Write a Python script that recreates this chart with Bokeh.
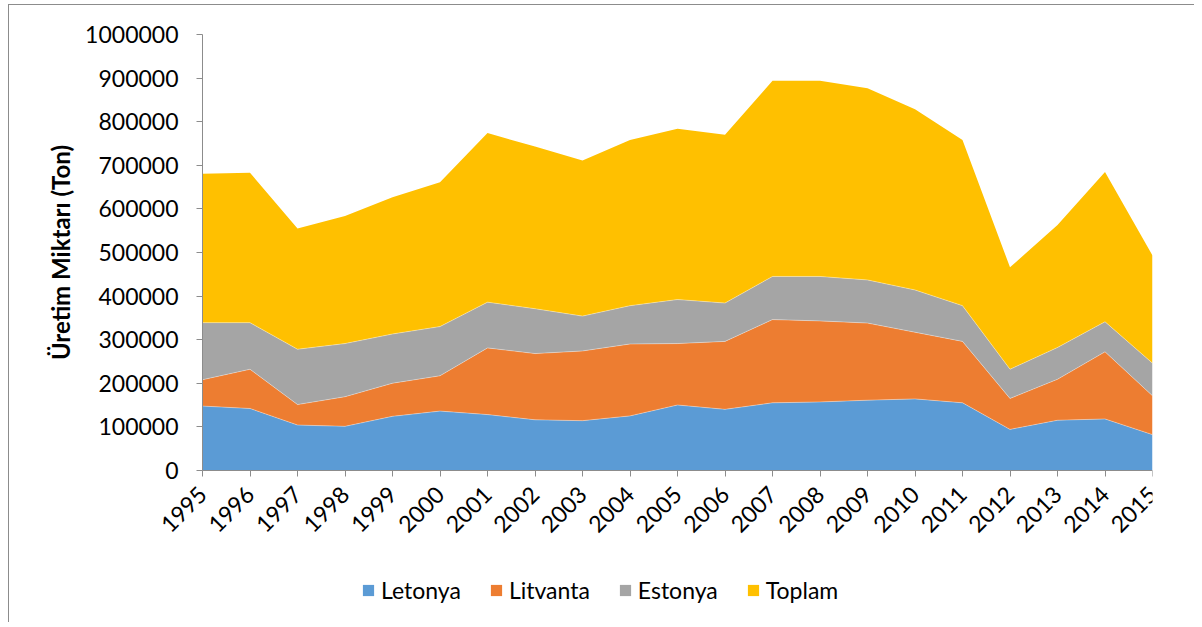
from math import pi
from bokeh.plotting import figure
from bokeh.models import ColumnDataSource, FixedTicker, BasicTickFormatter, Legend, LegendItem, Range1d
from bokeh.embed import file_html
from bokeh.resources import INLINE

years = list(range(1995, 2016))
letonya = [147500, 142000, 104000, 101000, 124000, 136000, 128000, 116000, 114000, 125000,
           150000, 140000, 155000, 157000, 161000, 164000, 155000, 94000, 115000, 118000, 82000]
litvanta = [60500, 90000, 47000, 68000, 76000, 81000, 153000, 152000, 160000, 165000,
            141000, 156000, 191000, 186000, 177000, 153000, 141000, 71000, 94000, 154000, 89000]
estonya = [131000, 107000, 127000, 122000, 113000, 113000, 105000, 103000, 80000, 88000,
           101000, 88000, 99000, 102000, 99000, 97000, 82000, 67000, 73000, 69000, 75000]
toplam = [342000, 344000, 277000, 293000, 314000, 331000, 388000, 372000, 357000, 380000,
          392000, 386000, 449000, 449000, 440000, 415000, 380000, 234000, 281000, 344000, 247000]

series_names = ["Letonya", "Litvanta", "Estonya", "Toplam"]
series_colors = ["#5B9BD5", "#ED7D31", "#A5A5A5", "#FFC000"]
y_ticks = [0, 100000, 200000, 300000, 400000, 500000, 600000, 700000, 800000, 900000, 1000000]
y_label = "Üretim Miktarı (Ton)"

source = ColumnDataSource(dict(year=years, Letonya=letonya, Litvanta=litvanta,
                               Estonya=estonya, Toplam=toplam))

FONT = "Lato"

# the frame extends beyond the data axes so that axes' labels and the legend,
# all drawn inside the frame, are not clipped
p = figure(width=1186, height=618, output_backend="svg", toolbar_location=None,
           x_range=Range1d(1991, 2015), y_range=Range1d(-340000, 1060000),
           min_border_left=3, min_border_right=43, min_border_top=3, min_border_bottom=5,
           styles={"border-left": "1px solid #8c8c8c", "border-top": "1px solid #8c8c8c",
                   "margin-left": "8px", "margin-top": "4px"})
p.outline_line_color = None
p.grid.visible = False

renderers = p.varea_stack(stackers=series_names, x="year", color=series_colors, source=source)
p.vline_stack(stackers=series_names[:-1], x="year", source=source,
              color="#ffffff", line_alpha=0.35, line_width=1)

p.xaxis.ticker = FixedTicker(ticks=years)
p.xaxis.fixed_location = 0
p.xaxis.bounds = (1995, 2015)
p.yaxis.ticker = FixedTicker(ticks=y_ticks)
p.yaxis.fixed_location = 1995
p.yaxis.bounds = (0, 1000000)
p.yaxis.formatter = BasicTickFormatter(use_scientific=False)
p.xaxis.major_label_orientation = pi / 4

for ax in (p.xaxis, p.yaxis):
    ax.axis_line_color = "#8c8c8c"
    ax.major_tick_line_color = "#8c8c8c"
    ax.minor_tick_line_color = None
    ax.major_tick_in = 0
    ax.major_tick_out = 6
    ax.major_label_text_font = FONT
    ax.major_label_text_font_size = "23px"
    ax.major_label_text_color = "#000000"

p.yaxis.major_label_standoff = 18
p.xaxis.major_label_standoff = 14
p.yaxis.axis_label = y_label
p.yaxis.axis_label_text_font = FONT
p.yaxis.axis_label_text_font_style = "bold"
p.yaxis.axis_label_text_font_size = "24px"
p.yaxis.axis_label_text_color = "#000000"
p.yaxis.axis_label_standoff = 7

legend = Legend(items=[LegendItem(label=n, renderers=[r]) for n, r in zip(series_names, renderers)],
                orientation="horizontal", location=(349, 14),
                glyph_width=14, glyph_height=14, label_standoff=6, spacing=28,
                padding=0, margin=0, border_line_color=None, background_fill_alpha=0,
                label_text_font=FONT, label_text_font_size="23px", label_text_color="#000000")
p.add_layout(legend, "center")

open("out.html", "w").write(file_html(p, INLINE))
